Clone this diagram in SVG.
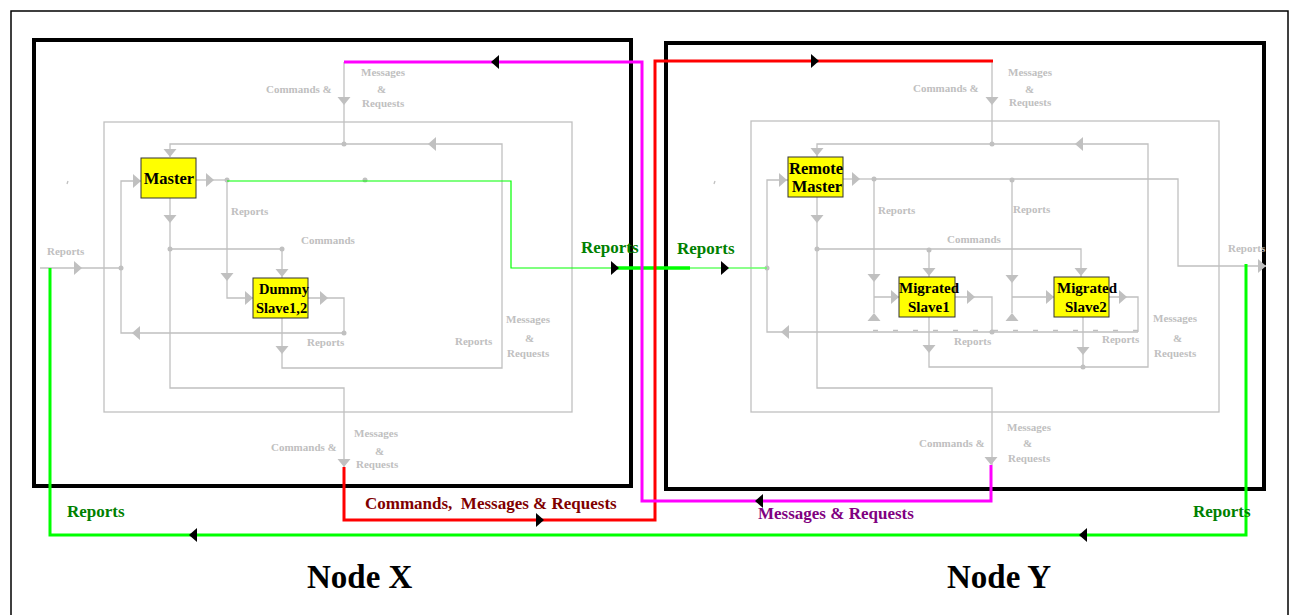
<svg xmlns="http://www.w3.org/2000/svg" xmlns:xlink="http://www.w3.org/1999/xlink" width="1292" height="615" viewBox="0 0 1292 615">
<style>
.g{fill:none;stroke:#c0c0c0;stroke-width:1.3}
.ga{fill:#c0c0c0}
.lbl{font-family:"Liberation Serif",serif;font-weight:bold;font-size:11px;fill:#c0c0c0}
.box{fill:#ffff00;stroke:#333;stroke-width:1}
.bt{font-family:"Liberation Serif",serif;font-weight:bold;fill:#000}
.frame{fill:none;stroke:#000;stroke-width:4}
.big{font-family:"Liberation Serif",serif;font-weight:bold;font-size:17px}
.title{font-family:"Liberation Serif",serif;font-weight:bold;font-size:33px;fill:#000}
</style>
<defs>
<polygon id="ad" class="ga" points="-6.5,0 6.5,0 0,8"/>
<polygon id="au" class="ga" points="-6.5,8 6.5,8 0,0"/>
<polygon id="ar" class="ga" points="0,-7 0,7 8,0"/>
<polygon id="al" class="ga" points="8,-7 8,7 0,0"/>
<polygon id="bl" fill="#000" points="8,-7 8,7 0,0"/>
<polygon id="br" fill="#000" points="0,-7 0,7 8,0"/>
</defs>
<rect x="0" y="0" width="1292" height="615" fill="#fff"/>
<rect id="frame" x="11" y="11" width="1277" height="620" fill="none" stroke="#000" stroke-width="1.5"/>

<g id="node-x">
<rect class="frame" x="34" y="40" width="597" height="446"/>
<text class="title" x="307" y="588">Node X</text>
</g>
<g id="node-y">
<rect class="frame" x="666" y="43" width="598" height="446"/>
<text class="title" x="947" y="588">Node Y</text>
</g>

<g id="connectors">
<!-- Node X gray wiring -->
<rect class="g" x="104" y="122" width="468" height="290"/>
<path class="g" d="M344,62V144"/>
<path class="g" d="M282,318V368H502V144H170V157"/>
<path class="g" d="M196,180H227"/>
<path class="g" d="M227,180V298H253"/>
<path class="g" d="M170,198V388H344V467"/>
<path class="g" d="M170,249H282V278"/>
<path class="g" d="M40,268H121"/>
<path class="g" d="M141,181H121V333H344"/>
<path class="g" d="M308,298H344V333"/>
<path class="g" d="M68,181l-1,3"/>
<circle class="ga" cx="344" cy="144" r="2.5"/>
<circle class="ga" cx="227" cy="180" r="2.5"/>
<circle class="ga" cx="365" cy="180" r="2.5"/>
<circle class="ga" cx="170" cy="249" r="2.5"/>
<circle class="ga" cx="282" cy="249" r="2.5"/>
<circle class="ga" cx="121" cy="268" r="2.5"/>
<circle class="ga" cx="344" cy="333" r="2.5"/>
<use href="#ad" x="344" y="97"/>
<use href="#ad" x="282" y="346"/>
<use href="#al" x="428" y="144"/>
<use href="#ad" x="170" y="149"/>
<use href="#ar" x="206" y="180"/>
<use href="#ad" x="227" y="273"/>
<use href="#ar" x="245" y="298"/>
<use href="#ad" x="170" y="215"/>
<use href="#ad" x="344" y="459"/>
<use href="#ad" x="282" y="269"/>
<use href="#ar" x="74" y="268"/>
<use href="#ar" x="133" y="181"/>
<use href="#al" x="132" y="333"/>
<use href="#ar" x="320" y="298"/>
<text class="lbl" x="266" y="93">Commands &amp;</text>
<text class="lbl" x="361" y="76">Messages</text>
<text class="lbl" x="377" y="93">&amp;</text>
<text class="lbl" x="362" y="107">Requests</text>
<text class="lbl" x="231" y="215">Reports</text>
<text class="lbl" x="301" y="244">Commands</text>
<text class="lbl" x="307" y="346">Reports</text>
<text class="lbl" x="455" y="345">Reports</text>
<text class="lbl" x="506" y="323">Messages</text>
<text class="lbl" x="525" y="342">&amp;</text>
<text class="lbl" x="507" y="357">Requests</text>
<text class="lbl" x="47" y="255">Reports</text>
<text class="lbl" x="271" y="451">Commands &amp;</text>
<text class="lbl" x="354" y="437">Messages</text>
<text class="lbl" x="375" y="455">&amp;</text>
<text class="lbl" x="356" y="468">Requests</text>

<!-- Node Y gray wiring -->
<rect class="g" x="751" y="121" width="468" height="291"/>
<path class="g" d="M992,61V144"/>
<path class="g" d="M929,317V367H1148V144H817V157"/>
<path class="g" d="M843,179H874"/>
<path class="g" d="M874,179H1178V266H1266"/>
<path class="g" d="M874,179V313M874,297H899"/>
<path class="g" d="M1012,180V313M1012,297H1054"/>
<path class="g" d="M817,197V388H992V465"/>
<path class="g" d="M817,249H1081V277M929,250V277"/>
<path class="g" d="M788,180H767V332H1138"/>
<path class="g" d="M873,330.5H1138" stroke-dasharray="5,15"/>
<path class="g" d="M955,297H992V332"/>
<path class="g" d="M1109,297H1138V332"/>
<path class="g" d="M1083,317V367"/>
<path class="g" d="M715,181l-1,3"/>
<circle class="ga" cx="992" cy="144" r="2.5"/>
<circle class="ga" cx="874" cy="179" r="2.5"/>
<circle class="ga" cx="1012" cy="180" r="2.5"/>
<circle class="ga" cx="817" cy="249" r="2.5"/>
<circle class="ga" cx="929" cy="250" r="2.5"/>
<circle class="ga" cx="767" cy="268" r="2.5"/>
<circle class="ga" cx="992" cy="332" r="2.5"/>
<circle class="ga" cx="1083" cy="367" r="2.5"/>
<use href="#ad" x="992" y="97"/>
<use href="#ad" x="929" y="345"/>
<use href="#al" x="1075" y="144"/>
<use href="#ad" x="817" y="148"/>
<use href="#ar" x="852" y="179"/>
<use href="#ar" x="1258" y="266"/>
<use href="#ad" x="874" y="274"/>
<use href="#ar" x="891" y="297"/>
<use href="#au" x="874" y="313"/>
<use href="#ad" x="1012" y="275"/>
<use href="#ar" x="1046" y="297"/>
<use href="#au" x="1012" y="313"/>
<use href="#ad" x="817" y="215"/>
<use href="#ad" x="991" y="457"/>
<use href="#ad" x="929" y="268"/>
<use href="#ad" x="1081" y="268"/>
<use href="#ar" x="779" y="180"/>
<use href="#al" x="781" y="332"/>
<use href="#ar" x="967" y="297"/>
<use href="#ar" x="1119" y="297"/>
<use href="#ad" x="1083" y="347"/>
<text class="lbl" x="913" y="92">Commands &amp;</text>
<text class="lbl" x="1008" y="76">Messages</text>
<text class="lbl" x="1025" y="93">&amp;</text>
<text class="lbl" x="1009" y="106">Requests</text>
<text class="lbl" x="878" y="214">Reports</text>
<text class="lbl" x="1013" y="213">Reports</text>
<text class="lbl" x="947" y="243">Commands</text>
<text class="lbl" x="954" y="345">Reports</text>
<text class="lbl" x="1102" y="343">Reports</text>
<text class="lbl" x="1153" y="322">Messages</text>
<text class="lbl" x="1173" y="342">&amp;</text>
<text class="lbl" x="1154" y="357">Requests</text>
<text class="lbl" x="1228" y="252">Reports</text>
<text class="lbl" x="919" y="447">Commands &amp;</text>
<text class="lbl" x="1007" y="431">Messages</text>
<text class="lbl" x="1023" y="447">&amp;</text>
<text class="lbl" x="1008" y="462">Requests</text>

<!-- coloured inter-node links -->
<path d="M227,181H511V268H614" fill="none" stroke="#00ff00" stroke-width="1.2"/>
<path d="M614,268H690" fill="none" stroke="#00ff00" stroke-width="3.5"/>
<path d="M690,268H767" fill="none" stroke="#66ff66" stroke-width="1.5"/>
<path d="M344,467V520H655V61H993" fill="none" stroke="#ff0000" stroke-width="3"/>
<path d="M991,465V501H642V62H344" fill="none" stroke="#ff00ff" stroke-width="3"/>
<path d="M1246,264V535H50V268" fill="none" stroke="#00ff00" stroke-width="3"/>
<use href="#bl" x="491" y="62"/>
<use href="#br" x="811" y="61"/>
<use href="#br" x="611" y="268"/>
<use href="#br" x="721" y="268"/>
<use href="#br" x="536" y="520"/>
<use href="#bl" x="755" y="501"/>
<use href="#bl" x="1079" y="535"/>
<use href="#bl" x="189" y="535"/>
<text class="big" x="581" y="253" fill="#008000">Reports</text>
<text class="big" x="677" y="254" fill="#008000">Reports</text>
<text class="big" x="67" y="517" fill="#008000">Reports</text>
<text class="big" x="1193" y="517" fill="#008000">Reports</text>
<text class="big" x="365" y="509" fill="#800000" xml:space="preserve">Commands,  Messages &amp; Requests</text>
<text class="big" x="758" y="519" fill="#800080">Messages &amp; Requests</text>
</g>

<g id="master">
<rect class="box" x="141" y="158" width="55" height="40"/>
<text class="bt" x="169" y="184" font-size="16.5" text-anchor="middle">Master</text>
</g>
<g id="dummy-slave">
<rect class="box" x="253" y="278" width="55" height="40"/>
<text class="bt" x="259" y="294" font-size="14.5">Dummy</text>
<text class="bt" x="256" y="313" font-size="14.5">Slave1,2</text>
</g>
<g id="remote-master">
<rect class="box" x="788" y="157" width="55" height="40"/>
<text class="bt" x="816" y="174" font-size="16.5" text-anchor="middle">Remote</text>
<text class="bt" x="817" y="192" font-size="16.5" text-anchor="middle">Master</text>
</g>
<g id="migrated-slave1">
<rect class="box" x="899" y="277" width="56" height="40"/>
<text class="bt" x="899" y="293" font-size="15">Migrated</text>
<text class="bt" x="908" y="312" font-size="15">Slave1</text>
</g>
<g id="migrated-slave2">
<rect class="box" x="1054" y="277" width="55" height="40"/>
<text class="bt" x="1057" y="293" font-size="15">Migrated</text>
<text class="bt" x="1065" y="312" font-size="15">Slave2</text>
</g>
</svg>
